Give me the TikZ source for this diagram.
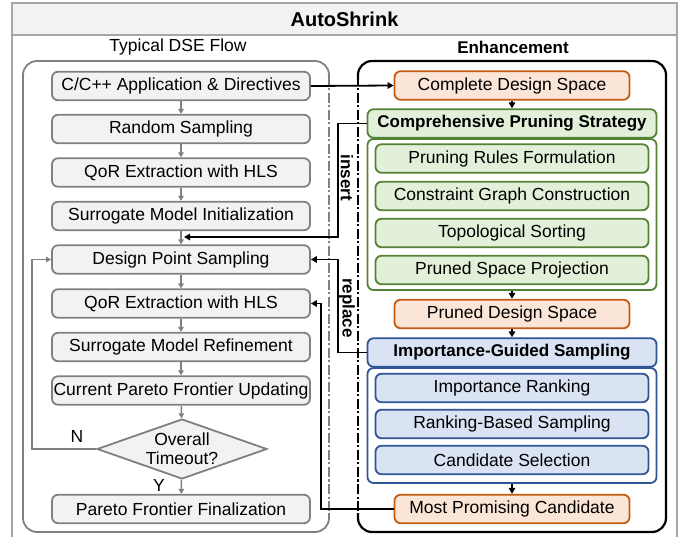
\documentclass[tikz,border=0pt]{standalone}
\usepackage{fontspec}
\setmainfont{Liberation Sans}
\usetikzlibrary{shapes.geometric,arrows.meta}
\definecolor{gbd}{HTML}{808080}
\definecolor{gfill}{HTML}{F2F2F2}
\definecolor{frame}{HTML}{A6A6A6}
\definecolor{obd}{HTML}{C55A11}
\definecolor{ofill}{HTML}{FBE5D6}
\definecolor{grbd}{HTML}{548235}
\definecolor{grfill}{HTML}{E2F0D9}
\definecolor{bbd}{HTML}{2F5597}
\definecolor{bfill}{HTML}{DAE3F3}
\newcommand\nf{\fontsize{17.5}{19}\selectfont}
\newcommand\nfb{\fontsize{17}{19}\selectfont\bfseries}
\begin{document}
\begin{tikzpicture}[x=1pt,y=-1pt,
  base/.style={rounded corners=6pt, line width=1.8pt, inner sep=0pt, font=\nf, minimum height=28.5pt},
  gbox/.style={base, draw=gbd, fill=gfill, minimum width=258pt},
  obox/.style={base, draw=obd, fill=ofill, minimum width=235pt},
  grhead/.style={base, draw=grbd, fill=grfill, minimum width=289pt, font=\nfb},
  grin/.style={base, draw=grbd, fill=grfill, minimum width=273pt},
  grcont/.style={rounded corners=6pt, line width=1.8pt, draw=grbd, fill=white, minimum width=289pt, inner sep=0pt},
  bhead/.style={base, draw=bbd, fill=bfill, minimum width=289pt, font=\nfb},
  bin/.style={base, draw=bbd, fill=bfill, minimum width=273pt},
  bcont/.style={rounded corners=6pt, line width=1.8pt, draw=bbd, fill=white, minimum width=289pt, inner sep=0pt},
  garrow/.style={draw=gbd, line width=1.5pt, -{Triangle[length=5pt,width=5.5pt]}},
  barrow/.style={draw=black, line width=1.8pt, -{Triangle[length=6pt,width=6.5pt]}},
  dashdot/.style={dash pattern=on 10pt off 2.5pt on 2pt off 2.5pt},
  lbl/.style={font=\nf, inner sep=0pt},
]
\useasboundingbox (0,0) rectangle (686,537);
% outer frame
\fill[gfill] (12,3) rectangle (677,35);
\draw[frame, line width=1.5pt] (12,545) -- (12,3) -- (677,3) -- (677,545);
\draw[frame, line width=1.5pt] (12,35) -- (677,35);
\node[font=\fontsize{20}{22}\selectfont\bfseries, inner sep=0pt] (title) at (344.5,19) {AutoShrink};
\node[lbl] (tl) at (178,47) {Typical DSE Flow};
\node[lbl, font=\nfb] (tr) at (513,47) {Enhancement};
% left box
\draw[gbd, line width=1.8pt, rounded corners=14pt] (329,80) -- (329,61) -- (23,61) -- (23,532) -- (329,532) -- (329,513);
\draw[gbd, line width=1.8pt, dashdot] (329,76) -- (329,518);
% right box
\draw[black, line width=2.2pt, rounded corners=14pt] (358,80) -- (358,61) -- (666,61) -- (666,532) -- (358,532) -- (358,513);
\draw[black, line width=2.2pt, dashdot] (358,76) -- (358,518);
% left column
\node[gbox] (n1) at (181,86) {C/C++ Application \& Directives};
\node[gbox] (n2) at (181,129) {Random Sampling};
\node[gbox] (n3) at (181,172.5) {QoR Extraction with HLS};
\node[gbox] (n4) at (181,216) {Surrogate Model Initialization};
\node[gbox] (n5) at (181,259.5) {Design Point Sampling};
\node[gbox] (n6) at (181,303.5) {QoR Extraction with HLS};
\node[gbox] (n7) at (181,347) {Surrogate Model Refinement};
\node[gbox] (n8) at (181,390.5) {Current Pareto Frontier Updating};
\node[diamond, draw=gbd, fill=gfill, line width=1.8pt, inner sep=0pt, minimum width=170pt, minimum height=60pt] (dec) at (182,449) {};
\node[lbl, align=center, font=\fontsize{17.5}{19}\selectfont] (dect) at (182,449) {Overall\\Timeout?};
\node[gbox] (n9) at (181,509) {Pareto Frontier Finalization};
\coordinate (ins) at (184,237);
\draw[garrow] (n1) -- (n2);
\draw[garrow] (n2) -- (n3);
\draw[garrow] (n3) -- (n4);
\draw[garrow] (n4) -- (n5);
\draw[garrow] (n5) -- (n6);
\draw[garrow] (n6) -- (n7);
\draw[garrow] (n7) -- (n8);
\draw[garrow] (n8) -- (dec);
\draw[garrow] (dec) -- (n9);
\draw[garrow] (dec.west) -- (32,449) |- (n5.west);
\node[lbl] (nlab) at (77,436) {N};
\node[lbl] (ylab) at (159,485) {Y};
% right column
\node[obox] (r1) at (512,85.5) {Complete Design Space};
\node[grhead] (r2) at (512,123.5) {Comprehensive Pruning Strategy};
\node[grcont, minimum height=151pt] (gc) at (512,214.5) {};
\node[grin] (g1) at (512,158.5) {Pruning Rules Formulation};
\node[grin] (g2) at (512,196) {Constraint Graph Construction};
\node[grin] (g3) at (512,233) {Topological Sorting};
\node[grin] (g4) at (512,270) {Pruned Space Projection};
\node[obox] (r3) at (512,314) {Pruned Design Space};
\node[bhead] (r4) at (512,352.5) {Importance-Guided Sampling};
\node[bcont, minimum height=115pt] (bc) at (512,425.5) {};
\node[bin] (b1) at (512,388) {Importance Ranking};
\node[bin] (b2) at (512,424) {Ranking-Based Sampling};
\node[bin] (b3) at (512,460) {Candidate Selection};
\node[obox] (r5) at (512,509) {Most Promising Candidate};
% black connectors
\draw[barrow] (n1.east) -- (r1.west);
\draw[barrow] (r1) -- (r2);
\draw[barrow] (gc) -- (r3);
\draw[barrow] (r3) -- (r4);
\draw[barrow] (bc) -- (r5);
\draw[barrow] (r2.west) -- (338,123.5) -- (338,237) -- (ins);
\draw[barrow] (r4.west) -- (338,352.5) -- (338,259.5) -- (n5.east);
\draw[barrow] (r5.west) -- (321,509) -- (321,303.5) -- (n6.east);
\node[lbl, font=\nfb, rotate=-90] (inslab) at (347,178) {insert};
\node[lbl, font=\nfb, rotate=-90] (replab) at (347,308) {replace};
\end{tikzpicture}
\end{document}
